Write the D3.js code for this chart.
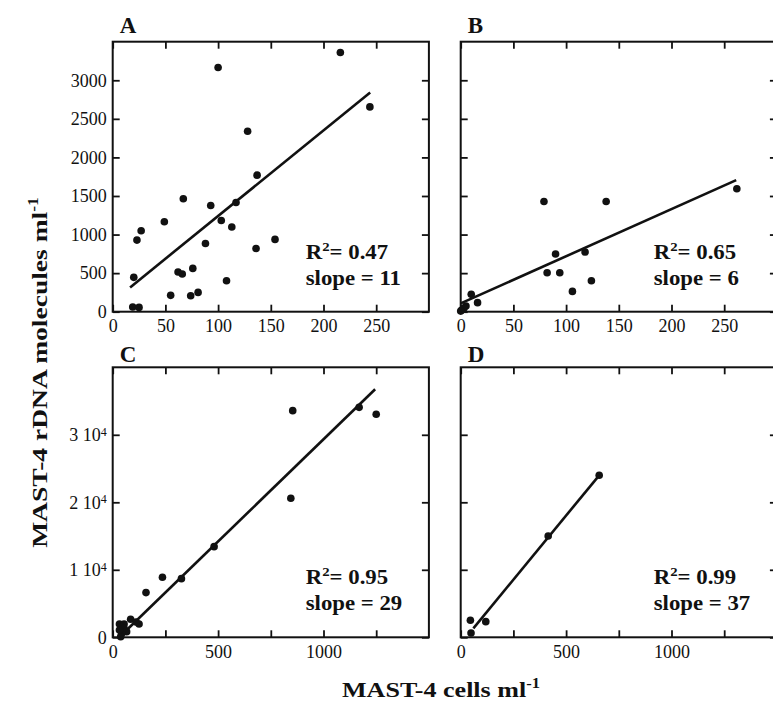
<!DOCTYPE html>
<html><head><meta charset="utf-8">
<script src="https://cdn.jsdelivr.net/npm/d3@7"></script>
<style>
body{margin:0;background:#fff}
svg{display:block;overflow:hidden}
text{font-family:"Liberation Serif","Times New Roman",serif;fill:#111}
</style>
</head><body>
<svg id="c" width="773" height="724"></svg>
<script>
// ---------------- data ----------------
const panelLabels = ["A", "B", "C", "D"];
const r2Values = ["0.47", "0.65", "0.95", "0.99"];
const slopeValues = ["11", "6", "29", "37"];

const xA = [216,100,244,128,137,67,93,117,49,103,27,113,23,154,88,136,20,62,66,76,108,55,74,81,19,25];
const yA = [3360,3165,2655,2340,1770,1464,1377,1416,1166,1183,1049,1097,928,937,885,820,445,514,488,561,402,212,207,250,60,56];

const xB = [262,79,138,90,118,82,94,124,106,10,16,5,1,3,0];
const yB = [1593,1429,1429,747,773,505,505,402,263,225,117,73,22,45,8];

const xC = [854,1169,1250,845,481,236,326,158,85,111,125,32,54,66,43,38,54,32];
const yC = [33580,34070,33040,20590,13430,8890,8690,6620,2670,2270,1975,1975,1975,840,590,100,1330,1090];

const xD = [657,415,46,119,49];
const yD = [24000,15010,2520,2320,640];

// regression line end points (data units)
const fitAx = [16.5, 244.3], fitAy = [315, 2841];
const fitBx = [0, 261.4],    fitBy = [108, 1705];
const fitCx = [66.5, 1245],  fitCy = [1086, 36740];
const fitDx = [60, 657],     fitDy = [1333, 24000];

// ticks
const xTicksAB = [0, 50, 100, 150, 200, 250];
const xLabelsAB = [0, 50, 100, 150, 200, 250];
const yTicksAB = [0, 500, 1000, 1500, 2000, 2500, 3000];
const yLabelsAB = [0, 500, 1000, 1500, 2000, 2500, 3000];
const xTicksCD = [0, 250, 500, 750, 1000, 1250];
const xLabelsCD = [0, 500, 1000];
const yTicksCD = [0, 10000, 20000, 30000];
const yLabelsCD = ["0", "1 10|4", "2 10|4", "3 10|4"];

const xTitle = "MAST-4 cells ml";
const yTitle = "MAST-4 rDNA molecules ml";
const titleSup = "-1";

// ---------------- layout ----------------
const W = 316.2, H = 270;
const ink = "#111";
const panels = [
  {label: panelLabels[0], xs: xA, ys: yA, fx: fitAx, fy: fitAy, r2: r2Values[0], sl: slopeValues[0],
   left: 112.7, top: 41.7, xdom: [0, 300], ydom: [0, 3500], xt: xTicksAB, xl: xLabelsAB, yt: yTicksAB, yl: yLabelsAB, letterY: 33.3},
  {label: panelLabels[1], xs: xB, ys: yB, fx: fitBx, fy: fitBy, r2: r2Values[1], sl: slopeValues[1],
   left: 460.7, top: 41.7, xdom: [0, 300], ydom: [0, 3500], xt: xTicksAB, xl: xLabelsAB, yt: yTicksAB, yl: null, letterY: 33.3},
  {label: panelLabels[2], xs: xC, ys: yC, fx: fitCx, fy: fitCy, r2: r2Values[2], sl: slopeValues[2],
   left: 112.7, top: 367.3, xdom: [0, 1500], ydom: [0, 40000], xt: xTicksCD, xl: xLabelsCD, yt: yTicksCD, yl: yLabelsCD, letterY: 361.5},
  {label: panelLabels[3], xs: xD, ys: yD, fx: fitDx, fy: fitDy, r2: r2Values[3], sl: slopeValues[3],
   left: 460.7, top: 367.3, xdom: [0, 1500], ydom: [0, 40000], xt: xTicksCD, xl: xLabelsCD, yt: yTicksCD, yl: null, letterY: 361.5}
];

const svg = d3.select("#c");

function styleAxis(g) {
  g.attr("font-family", null).attr("font-size", null);
  g.select(".domain").remove();
  g.selectAll(".tick line").attr("stroke", ink).attr("stroke-width", 1.8);
  g.selectAll(".tick text").attr("font-size", 18).style("fill", ink);
}

panels.forEach(p => {
  const g = svg.append("g");
  const x = d3.scaleLinear().domain(p.xdom).range([p.left, p.left + W]);
  const y = d3.scaleLinear().domain(p.ydom).range([p.top + H, p.top]);

  // bottom axis
  g.append("g").attr("transform", `translate(0,${p.top + H})`)
    .call(d3.axisBottom(x).tickValues(p.xt).tickSize(-7).tickSizeOuter(0).tickPadding(8)
      .tickFormat(d => p.xl.includes(d) ? String(d) : ""))
    .call(styleAxis);
  // top axis
  g.append("g").attr("transform", `translate(0,${p.top})`)
    .call(d3.axisTop(x).tickValues(p.xt).tickSize(-7).tickSizeOuter(0).tickFormat(""))
    .call(styleAxis);
  // right axis
  g.append("g").attr("transform", `translate(${p.left + W},0)`)
    .call(d3.axisRight(y).tickValues(p.yt).tickSize(-7).tickSizeOuter(0).tickFormat(""))
    .call(styleAxis);
  // left axis
  const la = g.append("g").attr("transform", `translate(${p.left},0)`)
    .call(d3.axisLeft(y).tickValues(p.yt).tickSize(-7).tickSizeOuter(0).tickPadding(6).tickFormat(""))
    .call(styleAxis);
  if (p.yl) {
    la.selectAll(".tick text").each(function(d, i) {
      const t = d3.select(this);
      const lab = String(p.yl[i]);
      t.text(null);
      if (lab.includes("|")) {
        const [base, sup] = lab.split("|");
        t.append("tspan").text(base);
        t.append("tspan").attr("dy", "-0.45em").attr("font-size", 12).text(sup);
      } else {
        t.text(lab);
      }
    });
  }

  // frame
  g.append("rect").attr("x", p.left).attr("y", p.top).attr("width", W).attr("height", H)
    .attr("fill", "none").attr("stroke", ink).attr("stroke-width", 2);

  // regression line
  const pts = p.fx.map((v, i) => [v, p.fy[i]]);
  g.append("path").attr("d", d3.line().x(d => x(d[0])).y(d => y(d[1]))(pts))
    .attr("fill", "none").attr("stroke", ink).attr("stroke-width", 2.6);

  // points
  g.selectAll("circle.pt").data(p.xs.map((v, i) => [v, p.ys[i]])).join("circle")
    .attr("class", "pt").attr("cx", d => x(d[0])).attr("cy", d => y(d[1])).attr("r", 3.8)
    .attr("fill", ink);

  // panel letter
  g.append("text").attr("x", p.left + 7).attr("y", p.letterY)
    .attr("font-size", 23).attr("font-weight", "bold").text(p.label);

  // stats
  const sx = p.left + 193;
  const t1 = g.append("text").attr("transform", `translate(${sx},${p.top + H - 53}) scale(1.14,1)`)
    .attr("font-size", 20).attr("font-weight", "bold");
  t1.append("tspan").text("R");
  t1.append("tspan").attr("dy", -8).attr("font-size", 13).text("2");
  t1.append("tspan").attr("dy", 8).text("= " + p.r2);
  g.append("text").attr("transform", `translate(${sx},${p.top + H - 27}) scale(1.14,1)`)
    .attr("font-size", 20).attr("font-weight", "bold").text("slope = " + p.sl);
});

// axis titles
function titled(parentTransform, target) {
  const t = svg.append("text").attr("font-size", 22).attr("font-weight", "bold").attr("text-anchor", "middle");
  return t;
}
const xt = svg.append("text").attr("font-size", 22).attr("font-weight", "bold").attr("text-anchor", "middle");
xt.append("tspan").text(xTitle);
xt.append("tspan").attr("dy", -9).attr("font-size", 14).text(titleSup);
const xw = xt.node().getBBox().width;
xt.attr("transform", `translate(441,697) scale(${198 / xw},1)`);

const yt = svg.append("text").attr("font-size", 22).attr("font-weight", "bold").attr("text-anchor", "middle");
yt.append("tspan").text(yTitle);
yt.append("tspan").attr("dy", -9).attr("font-size", 14).text(titleSup);
const yw = yt.node().getBBox().width;
yt.attr("transform", `translate(46.5,372.5) rotate(-90) scale(${351 / yw},1)`);
</script>
</body></html>
